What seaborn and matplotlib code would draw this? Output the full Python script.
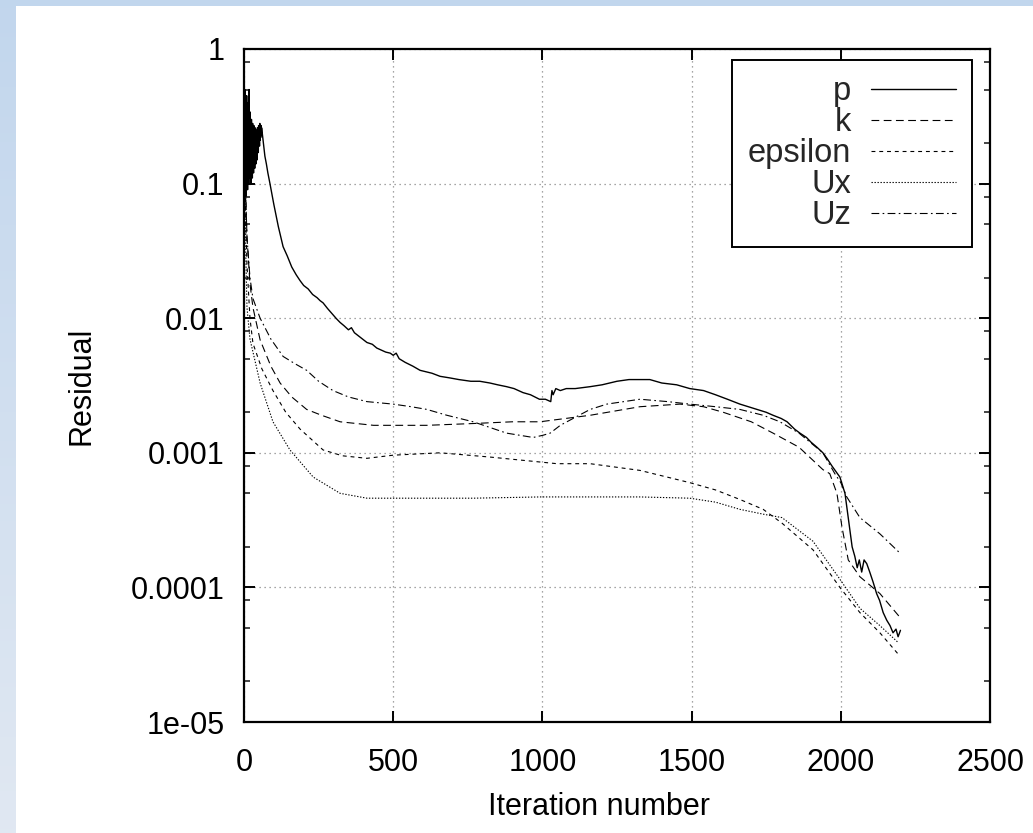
import numpy as np
import pandas as pd
import matplotlib
matplotlib.use("Agg")
import matplotlib.pyplot as plt
import seaborn as sns
from matplotlib.patches import Rectangle
from matplotlib.ticker import LogLocator, FixedLocator, FuncFormatter, NullFormatter

# ---------------- data ----------------
p_iter = list(range(0, 61)) + [
    65, 70, 75, 80, 87, 100, 115, 131, 145, 160, 175, 188, 200, 215, 230, 245, 255,
    265, 280, 295, 310, 322, 335, 350, 360, 370, 390, 412, 430, 445, 460, 475, 490,
    500, 510, 520, 540, 566, 590, 610, 630, 657, 690, 720, 760, 790, 824, 850, 880,
    905, 935, 960, 990, 1010, 1028, 1032, 1036, 1045, 1060, 1080, 1110, 1160, 1200,
    1250, 1290, 1327, 1360, 1400, 1450, 1494, 1540, 1580, 1620, 1662, 1690, 1720,
    1750, 1773, 1800, 1820, 1845, 1863, 1885, 1900, 1920, 1940, 1955, 1970, 1985,
    1997, 2005, 2014, 2022, 2030, 2038, 2047, 2055, 2062, 2070, 2078, 2087, 2097,
    2108, 2120, 2130, 2142, 2154, 2165, 2175, 2185, 2192, 2200]
p_val = [
    0.06, 0.3, 0.09, 0.5, 0.1, 0.2, 0.08, 0.35, 0.12, 0.45,
    0.1, 0.28, 0.09, 0.4, 0.13, 0.22, 0.1, 0.5, 0.14, 0.3,
    0.11, 0.34, 0.12, 0.25, 0.1, 0.3, 0.15, 0.22, 0.11, 0.28,
    0.14, 0.24, 0.12, 0.27, 0.15, 0.2, 0.13, 0.26, 0.16, 0.22,
    0.14, 0.25, 0.17, 0.21, 0.15, 0.26, 0.18, 0.23, 0.17, 0.27,
    0.2, 0.24, 0.19, 0.28, 0.21, 0.25, 0.22, 0.27, 0.23, 0.26,
    0.25,
    0.2, 0.16, 0.14, 0.12, 0.1, 0.07, 0.048, 0.034, 0.029, 0.024, 0.021, 0.019,
    0.0175, 0.0165, 0.015, 0.0142, 0.0135, 0.013, 0.0118, 0.0108, 0.0099, 0.0093,
    0.0088, 0.0082, 0.0085, 0.0078, 0.0072, 0.0066, 0.0064, 0.006, 0.0058, 0.0056,
    0.0055, 0.0053, 0.0055, 0.005, 0.0047, 0.0044, 0.0041, 0.004, 0.0039, 0.0037,
    0.0036, 0.0035, 0.0034, 0.0034, 0.0033, 0.0032, 0.0031, 0.003, 0.0028, 0.0027,
    0.0025, 0.0025, 0.0024, 0.0029, 0.0027, 0.003, 0.0029, 0.003, 0.003, 0.0031,
    0.0032, 0.0034, 0.0035, 0.0035, 0.0035, 0.0033, 0.0032, 0.0030, 0.0029, 0.0027,
    0.0025, 0.0023, 0.0022, 0.0021, 0.002, 0.0019, 0.0018, 0.0017, 0.0015, 0.0014,
    0.0013, 0.0012, 0.0011, 0.001, 0.0009, 0.0008, 0.00072, 0.00066, 0.00058,
    0.0005, 0.00037, 0.00027, 0.0002, 0.00017, 0.00014, 0.00016, 0.00013, 0.00016,
    0.00015, 0.00013, 0.00011, 9e-5, 8e-5, 6.5e-5, 5.7e-5, 5.2e-5, 4.6e-5, 4.9e-5,
    4.3e-5, 4.8e-5]

k_iter = [0, 3, 6, 10, 20, 30, 54, 90, 121, 160, 210, 260, 322, 434, 613, 768, 900,
          992, 1160, 1327, 1461, 1540, 1606, 1700, 1773, 1860, 1940, 1963, 1987,
          2004, 2025, 2064, 2131, 2198]
k_val = [0.5, 0.2, 0.08, 0.04, 0.018, 0.012, 0.0069, 0.0044, 0.0033, 0.0026, 0.0021,
         0.0019, 0.0017, 0.0016, 0.0016, 0.00165, 0.0017, 0.0017, 0.0019, 0.0022,
         0.0023, 0.0022, 0.0020, 0.0017, 0.0014, 0.0011, 0.00075, 0.0007, 0.0005,
         0.00028, 0.00016, 0.00012, 9e-5, 6e-5]

eps_iter = [0, 3, 6, 10, 20, 30, 60, 97, 140, 188, 265, 330, 412, 500, 657, 824,
            1049, 1160, 1327, 1494, 1580, 1662, 1740, 1803, 1907, 1997, 2064, 2131,
            2192]
eps_val = [0.5, 0.15, 0.05, 0.025, 0.01, 0.0065, 0.0042, 0.0029, 0.002, 0.0015,
           0.00105, 0.00095, 0.00091, 0.00096, 0.001, 0.00093, 0.00083, 0.00083,
           0.00074, 0.0006, 0.00053, 0.00045, 0.00038, 0.0003, 0.00019, 0.0001,
           6.5e-5, 4.6e-5, 3.2e-5]

ux_iter = [0, 3, 6, 10, 20, 54, 97, 154, 232, 322, 412, 500, 768, 992, 1103, 1327,
           1494, 1580, 1662, 1740, 1803, 1907, 1997, 2064, 2131, 2192]
ux_val = [0.5, 0.1, 0.03, 0.012, 0.007, 0.0033, 0.0017, 0.00105, 0.00066, 0.0005,
          0.00046, 0.00046, 0.00046, 0.00047, 0.00047, 0.00047, 0.00046, 0.00043,
          0.00038, 0.00035, 0.00033, 0.00022, 0.000115, 7e-5, 5.2e-5, 3.9e-5]

uz_iter = [0, 3, 6, 10, 20, 30, 54, 90, 131, 170, 210, 250, 298, 350, 412, 500, 560,
           613, 680, 768, 880, 969, 1002, 1026, 1060, 1103, 1160, 1216, 1327, 1420,
           1494, 1580, 1662, 1740, 1796, 1860, 1940, 1980, 2000, 2020, 2064, 2131,
           2198]
uz_val = [0.5, 0.2, 0.08, 0.04, 0.02, 0.014, 0.01, 0.007, 0.0052, 0.0046, 0.0041,
          0.0034, 0.0029, 0.0026, 0.0024, 0.0023, 0.0022, 0.0021, 0.0019, 0.0017,
          0.0014, 0.0013, 0.00135, 0.0014, 0.0016, 0.0018, 0.0021, 0.0023, 0.0025,
          0.0024, 0.0023, 0.0022, 0.0021, 0.0019, 0.0017, 0.0014, 0.001, 0.0007,
          0.0006, 0.00047, 0.00033, 0.00025, 0.00018]

series_names = ["p", "k", "epsilon", "Ux", "Uz"]
x_ticks = [0, 500, 1000, 1500, 2000, 2500]
y_ticks = [1e-5, 1e-4, 1e-3, 1e-2, 1e-1, 1]
y_tick_labels = ["1e-05", "0.0001", "0.001", "0.01", "0.1", "1"]
x_label = "Iteration number"
y_label = "Residual"

# ---------------- style ----------------
sns.set_style("ticks")
plt.rcParams["font.family"] = ["Liberation Sans", "DejaVu Sans"]

W, H = 1033, 833
fig = plt.figure(figsize=(W / 100, H / 100), dpi=100)

# slide-like background: blue gradient strip on left and top, white panel
bg = fig.add_axes([0, 0, 1, 1], zorder=-10)
bg.set_xlim(0, 1)
bg.set_ylim(0, 1)
bg.axis("off")
top_c = np.array([0.76, 0.84, 0.93])
bot_c = np.array([0.88, 0.91, 0.95])
t = np.linspace(0, 1, 200)[:, None, None]
grad = top_c * (1 - t) + bot_c * t
grad = np.repeat(grad, 2, axis=1)
bg.imshow(grad, extent=(0, 1, 0, 1), aspect="auto", origin="upper")
bg.add_patch(Rectangle((16 / W, 0), 1 - 16 / W, (H - 6) / H,
                       transform=bg.transAxes, facecolor="white", edgecolor="none"))

left, right, top, bottom = 244, 990, 49, 722
ax = fig.add_axes([left / W, 1 - bottom / H, (right - left) / W, (bottom - top) / H])
ax.set_facecolor("white")

frames = []
for name, xs, ys in [("p", p_iter, p_val), ("k", k_iter, k_val),
                     ("epsilon", eps_iter, eps_val), ("Ux", ux_iter, ux_val),
                     ("Uz", uz_iter, uz_val)]:
    frames.append(pd.DataFrame({"iter": xs, "res": ys, "series": name}))
df = pd.concat(frames, ignore_index=True)

styles = {
    "p": "-",
    "k": (0, (7, 4)),
    "epsilon": (0, (3.5, 3.5)),
    "Ux": (0, (1.2, 1.5)),
    "Uz": (0, (7, 3, 1.5, 3)),
}
for name in series_names:
    sub = df[df["series"] == name]
    sns.lineplot(data=sub, x="iter", y="res", ax=ax, color="black",
                 linewidth=1.0 if name == "p" else 0.8, linestyle=styles[name],
                 estimator=None, sort=False, label=name, legend=False)

ax.set_yscale("log")
ax.set_xlim(0, 2500)
ax.set_ylim(1e-5, 1)

ax.xaxis.set_major_locator(FixedLocator(x_ticks))
ax.yaxis.set_major_locator(FixedLocator(y_ticks))
lab_map = dict(zip(y_ticks, y_tick_labels))
ax.yaxis.set_major_formatter(FuncFormatter(
    lambda v, pos: lab_map.get(min(y_ticks, key=lambda q: abs(np.log10(q) - np.log10(v))), "")))
ax.yaxis.set_minor_locator(LogLocator(base=10, subs=[2, 5, 8]))
ax.yaxis.set_minor_formatter(NullFormatter())

ax.grid(True, which="major", color="#888888", linestyle=(0, (1, 3)), linewidth=0.9)
ax.set_axisbelow(True)

for s in ax.spines.values():
    s.set_visible(True)
    s.set_color("black")
    s.set_linewidth(1.6)

ax.tick_params(axis="both", which="major", direction="in", length=8, width=1.4,
               top=True, right=True, labelsize=22, colors="black")
ax.tick_params(axis="y", which="minor", direction="in", length=4, width=1.2,
               left=True, right=True)
ax.tick_params(axis="x", which="major", pad=19)
ax.tick_params(axis="y", which="major", pad=14)

ax.set_xlabel(x_label, fontsize=22, color="black")
ax.set_ylabel(y_label, fontsize=22, color="black")
ax.xaxis.set_label_coords(0.476, -0.104)
ax.yaxis.set_label_coords(-0.198, 0.5)

leg = ax.legend(loc="upper right", bbox_to_anchor=(0.976, 0.984), borderaxespad=0,
                fontsize=23.5, markerfirst=False, frameon=True, fancybox=False,
                handlelength=2.6, handletextpad=0.6, labelspacing=0.0,
                borderpad=0.5)
fr = leg.get_frame()
fr.set_edgecolor("black")
fr.set_linewidth(1.4)
fr.set_alpha(1)
fr.set_facecolor("white")
fr.set_boxstyle("square", pad=0)

fig.savefig("out.png", dpi=100, facecolor="white")
